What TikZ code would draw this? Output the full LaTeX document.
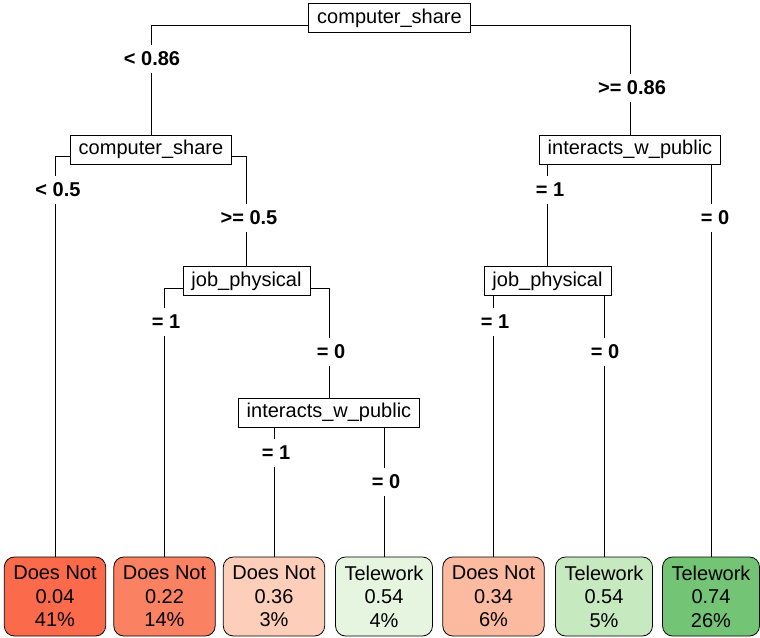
\documentclass[tikz,border=0pt]{standalone}
\usepackage{fontspec}
\setmainfont{Liberation Sans}
\usetikzlibrary{positioning}
\definecolor{notdark}{RGB}{252,106,76}
\definecolor{notmid}{RGB}{251,129,99}
\definecolor{notlight}{RGB}{253,206,185}
\definecolor{notpale}{RGB}{252,187,161}
\definecolor{telepale}{RGB}{229,245,224}
\definecolor{telelight}{RGB}{199,233,192}
\definecolor{teledark}{RGB}{116,196,118}
\tikzset{edge/.style={draw,line width=0.8pt}}
\tikzset{treeFont/.style={font=\fontsize{20}{23.5}\selectfont}}

\begin{document}
\begin{tikzpicture}[x=1pt,y=-1pt,
  splitNode/.style={rectangle,draw,line width=0.8pt,fill=white,treeFont,inner xsep=8.5pt,inner ysep=0pt,minimum height=29pt},
  leafNode/.style={rectangle,draw,line width=0.8pt,rounded corners=10pt,treeFont,align=center,inner xsep=9pt,inner ysep=0pt,minimum height=79pt,fill=#1},
  edgeLabel/.style={fill=white,inner xsep=2pt,inner ysep=7pt,font=\fontsize{20}{23.5}\selectfont\bfseries}]
	\useasboundingbox (0,0) rectangle (760,637);
	% split nodes
	\node[splitNode] (root) at (389.5,18) {computer\_share};
	\node[splitNode] (cshare) at (151,149.5) {computer\_share};
	\node[splitNode] (publicR) at (630,149.5) {interacts\_w\_public};
	\node[splitNode] (physL) at (246.5,281) {job\_physical};
	\node[splitNode] (physR) at (547.5,281) {job\_physical};
	\node[splitNode] (publicM) at (329,412.5) {interacts\_w\_public};
	% leaves
	\node[leafNode=notdark] (leafA) at (55,596.5) {Does Not\\0.04\\41\%};
	\node[leafNode=notmid] (leafB) at (164.5,596.5) {Does Not\\0.22\\14\%};
	\node[leafNode=notlight] (leafC) at (274,596.5) {Does Not\\0.36\\3\%};
	\node[leafNode=telepale] (leafD) at (384,596.5) {Telework\\0.54\\4\%};
	\node[leafNode=notpale] (leafE) at (493.5,596.5) {Does Not\\0.34\\6\%};
	\node[leafNode=telelight] (leafF) at (604,596.5) {Telework\\0.54\\5\%};
	\node[leafNode=teledark] (leafG) at (711,596.5) {Telework\\0.74\\26\%};
	% connectors
	\draw[edge] ([yshift=-7pt]root.west) -| (cshare.north);
	\draw[edge] ([yshift=-7pt]root.east) -| (publicR.north);
	\draw[edge] ([yshift=-7pt]cshare.west) -| (leafA.north);
	\draw[edge] ([yshift=-7pt]cshare.east) -| (physL.north);
	\draw[edge] ([yshift=-7pt]physL.west) -| (leafB.north);
	\draw[edge] ([yshift=-7pt]physL.east) -| (publicM.north);
	\draw[edge] (publicM.south -| leafC.north) -- (leafC.north);
	\draw[edge] (publicM.south -| leafD.north) -- (leafD.north);
	\draw[edge] (publicR.south -| physR.north) -- (physR.north);
	\draw[edge] (publicR.south -| leafG.north) -- (leafG.north);
	\draw[edge] (physR.south -| leafE.north) -- (leafE.north);
	\draw[edge] (physR.south -| leafF.north) -- (leafF.north);
	% split labels
	\node[edgeLabel] (lRootL) at (152,59) {< 0.86};
	\node[edgeLabel] (lRootR) at (632,88) {>= 0.86};
	\node[edgeLabel] (lShareL) at (58,190) {< 0.5};
	\node[edgeLabel] (lShareR) at (249,218) {>= 0.5};
	\node[edgeLabel] (lPhysLL) at (166,322) {= 1};
	\node[edgeLabel] (lPhysLR) at (331,352) {= 0};
	\node[edgeLabel] (lPubML) at (276,453) {= 1};
	\node[edgeLabel] (lPubMR) at (386,482) {= 0};
	\node[edgeLabel] (lPubRL) at (550,190) {= 1};
	\node[edgeLabel] (lPubRR) at (715,218) {= 0};
	\node[edgeLabel] (lPhysRL) at (495,322) {= 1};
	\node[edgeLabel] (lPhysRR) at (605,352) {= 0};
\end{tikzpicture}
\end{document}
